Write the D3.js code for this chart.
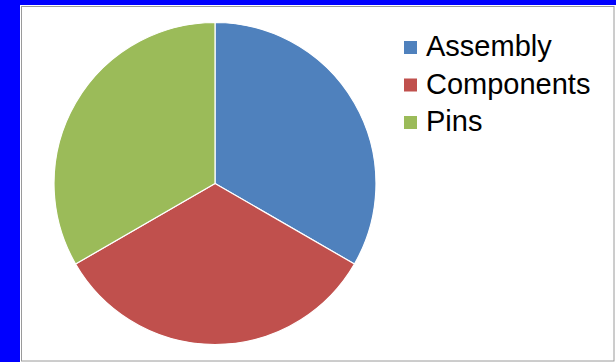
<!DOCTYPE html>
<html>
<head>
<meta charset="utf-8">
<script src="https://cdn.jsdelivr.net/npm/d3@7"></script>
<style>
  html, body { margin: 0; padding: 0; background: #0000ff; }
  svg { display: block; }
</style>
</head>
<body>
<svg id="chart" width="616" height="362"></svg>
<script>
// Share of work by area
const categories = ["Assembly", "Components", "Pins"];
const values = [1, 1, 1];
const colors = ["#4f81bd", "#c0504d", "#9bbb59"];

const svg = d3.select("#chart");

// Chart panel on the blue page
svg.append("rect")
  .attr("x", 20).attr("y", 5)
  .attr("width", 596).attr("height", 362)
  .attr("fill", "#ffffff");
svg.append("rect")
  .attr("x", 21.5).attr("y", 6.5)
  .attr("width", 592.5).attr("height", 354.5)
  .attr("fill", "none")
  .attr("stroke", "#9a9a9a")
  .attr("stroke-width", 1);

const data = categories.map((c, i) => ({ name: c, value: values[i] }));
const color = d3.scaleOrdinal().domain(categories).range(colors);

const pie = d3.pie().sort(null).value(d => d.value);
const radius = 161;
const arc = d3.arc().innerRadius(0).outerRadius(radius);

const g = svg.append("g").attr("transform", "translate(215,183.5)");
g.selectAll("path")
  .data(pie(data))
  .join("path")
  .attr("d", arc)
  .attr("fill", d => color(d.data.name))
  .attr("stroke", "#ffffff")
  .attr("stroke-width", 1.2)
  .attr("stroke-linejoin", "round");

// Legend
const legend = svg.append("g").attr("transform", "translate(404,41)");
const item = legend.selectAll("g")
  .data(categories)
  .join("g")
  .attr("transform", (d, i) => `translate(0,${i * 37.5})`);
item.append("rect")
  .attr("width", 13).attr("height", 13)
  .attr("fill", d => color(d));
item.append("text")
  .attr("x", 22).attr("y", 15)
  .attr("font-family", "Liberation Sans, Arial, sans-serif")
  .attr("font-size", 29)
  .attr("fill", "#000000")
  .text(d => d);
</script>
</body>
</html>
